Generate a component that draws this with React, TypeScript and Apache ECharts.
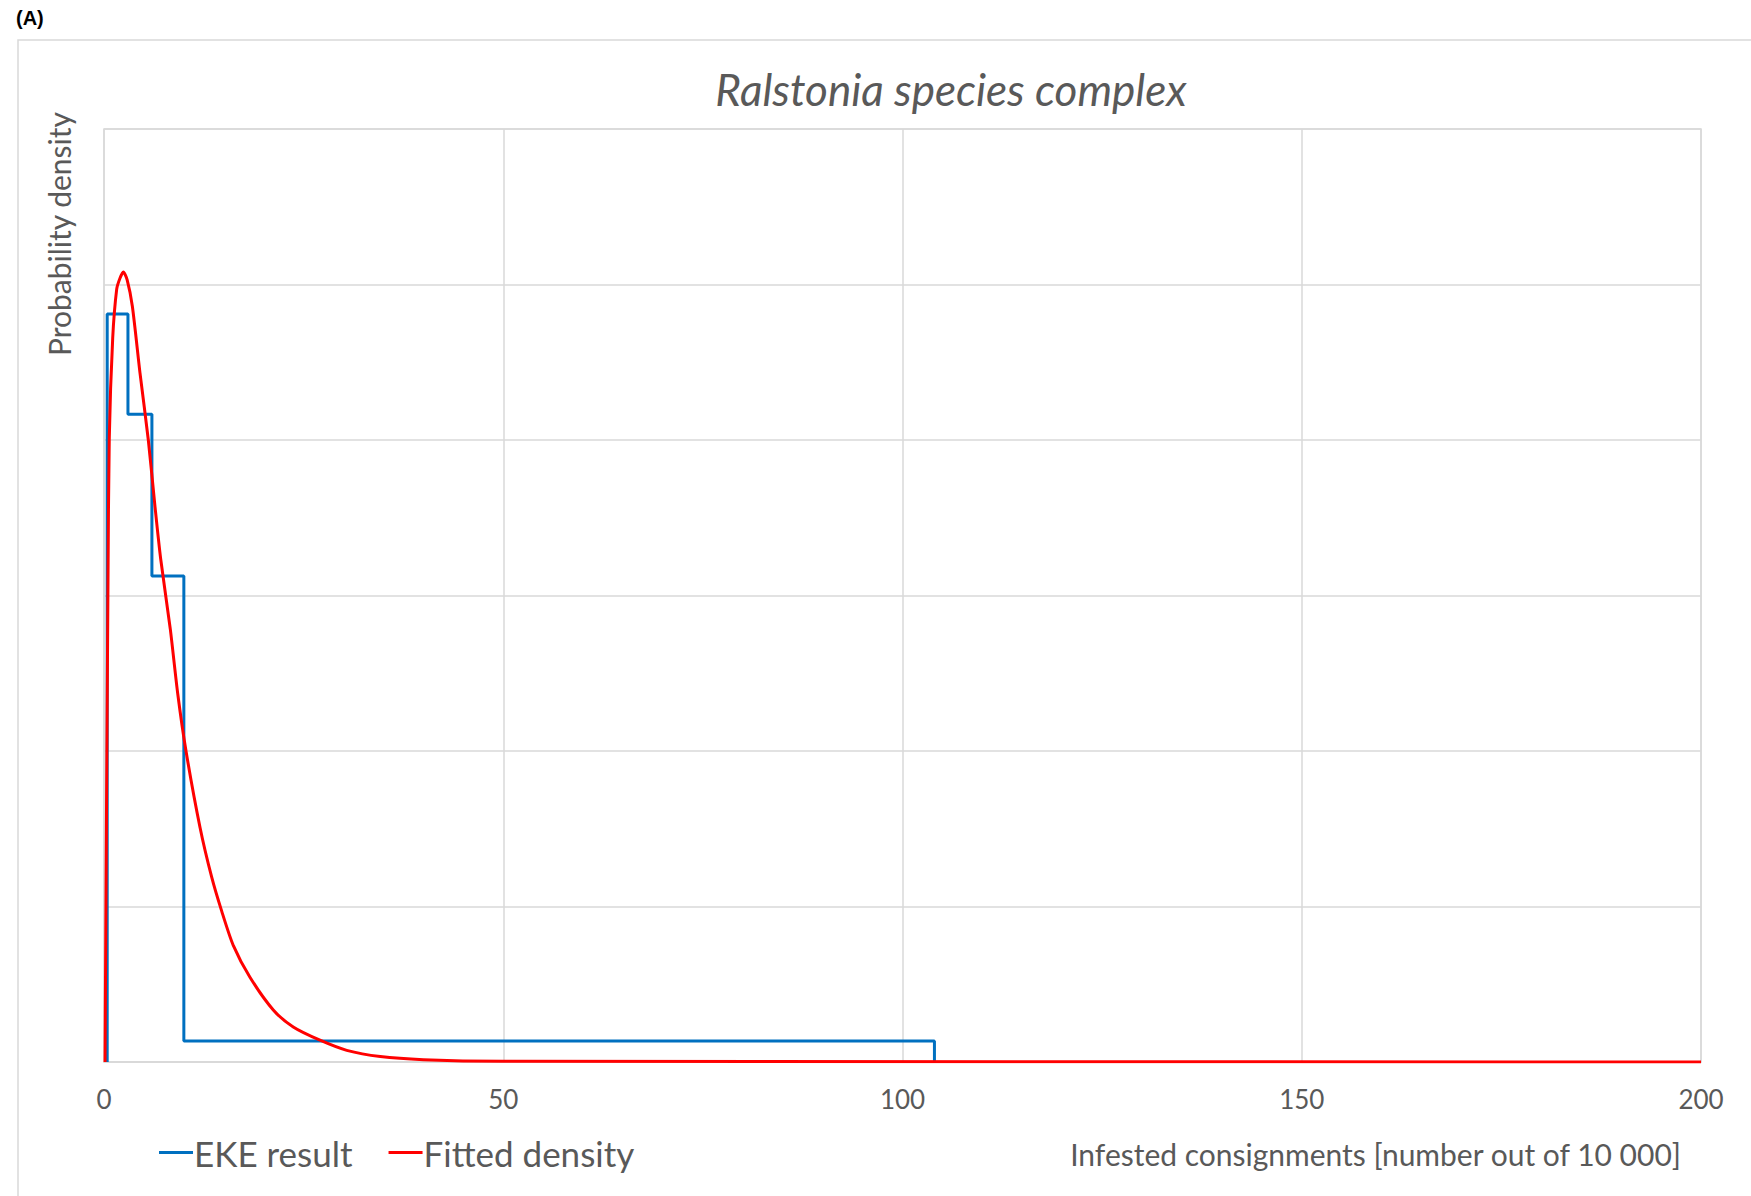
import React, { useEffect, useRef } from "react";
import * as echarts from "echarts";

// EKE result: quartile-based histogram (bin edges and densities)
const ekeEdges = [0.4, 3, 6, 10, 104];
const ekeDensity = [0.0962, 0.0833, 0.0625, 0.0027];

// Fitted density curve
const fitX = [0.13, 0.3, 0.5, 0.66, 1.09, 1.59, 2.0, 2.42, 2.9, 3.55, 4.51, 5.55, 6.39, 7.1, 8.3, 9.23, 10.27, 12.02, 13.48, 14.74, 16.19, 18.28, 21.2, 23.7, 27.05, 30.4, 34.6, 40, 50, 200];
const fitY = [0, 0.03, 0.062, 0.0802, 0.0931, 0.0994, 0.1008, 0.1016, 0.1006, 0.0972, 0.0886, 0.08, 0.0714, 0.0647, 0.0557, 0.0474, 0.04, 0.0302, 0.0238, 0.0194, 0.015, 0.0109, 0.0067, 0.0045, 0.0028, 0.0015, 0.0007, 0.0003, 0.0001, 0];

const xTicks = [0, 50, 100, 150, 200];
const seriesNames = ["EKE result", "Fitted density"];

const TEXT = "#595959";
const GRID = "#d9d9d9";
const FONT = "Lato, 'Open Sans', sans-serif";

export default function App() {
  const ref = useRef<HTMLDivElement>(null);
  useEffect(() => {
    if (!ref.current) return;
    const chart = echarts.init(ref.current, null, { renderer: "svg" });

    const ekeData: number[][] = [];
    ekeData.push([ekeEdges[0], 0]);
    for (let i = 0; i < ekeDensity.length; i++) {
      ekeData.push([ekeEdges[i], ekeDensity[i]]);
      ekeData.push([ekeEdges[i + 1], ekeDensity[i]]);
    }
    ekeData.push([ekeEdges[ekeEdges.length - 1], 0]);

    const fitData = fitX.map((x, i) => [x, fitY[i]]);

    chart.setOption({
      animation: false,
      backgroundColor: "#ffffff",
      title: {
        text: "Ralstonia species complex",
        left: 946,
        top: 62,
        textAlign: "center",
        textStyle: { fontFamily: FONT, fontStyle: "italic", fontWeight: "normal", fontSize: 44, color: TEXT },
      },
      grid: {
        left: 104,
        top: 129,
        width: 1597,
        height: 933,
        show: true,
        borderColor: GRID,
        borderWidth: 1.5,
        containLabel: false,
        outerBoundsMode: "none",
      },
      legend: {
        data: seriesNames,
        left: 154,
        top: 1130,
        icon: "rect",
        itemWidth: 34,
        itemHeight: 3,
        itemGap: 36,
        textStyle: { fontFamily: FONT, fontSize: 35, color: TEXT, padding: [0, 0, 0, -4] },
      },
      xAxis: {
        type: "value",
        min: 0,
        max: 200,
        interval: 50,
        axisLine: { show: true, lineStyle: { color: GRID, width: 1.5 } },
        axisTick: { show: false },
        splitLine: { show: true, lineStyle: { color: GRID, width: 1.5 } },
        axisLabel: {
          color: TEXT,
          fontFamily: FONT,
          fontSize: 26,
          margin: 24,
          formatter: (v: number) => (xTicks.indexOf(v) >= 0 ? String(v) : ""),
        },
      },
      yAxis: {
        type: "value",
        min: 0,
        max: 0.12,
        interval: 0.02,
        axisLine: { show: false },
        axisTick: { show: false },
        axisLabel: { show: false },
        splitLine: { show: true, lineStyle: { color: GRID, width: 1.5 } },
      },
      graphic: [
        {
          type: "rect",
          silent: true,
          z: -10,
          shape: { x: 18, y: 40, width: 1800, height: 1250 },
          style: { fill: "none", stroke: GRID, lineWidth: 1.5 },
        },
        {
          type: "text",
          x: 16,
          y: 8,
          style: { text: "(A)", fontFamily: "'Liberation Sans', Arial, sans-serif", fontWeight: "bold", fontSize: 20, fill: "#000000" },
        },
        {
          type: "text",
          x: 59,
          y: 234,
          rotation: Math.PI / 2,
          style: {
            text: "Probability density",
            fontFamily: FONT,
            fontSize: 30,
            fill: TEXT,
            textAlign: "center",
            textVerticalAlign: "middle",
          },
        },
        {
          type: "text",
          x: 1681,
          y: 1154,
          style: {
            text: "Infested consignments [number out of 10 000]",
            fontFamily: FONT,
            fontSize: 30,
            fill: TEXT,
            textAlign: "right",
            textVerticalAlign: "middle",
          },
        },
      ],
      series: [
        {
          name: seriesNames[0],
          type: "line",
          data: ekeData,
          showSymbol: false,
          symbol: "none",
          lineStyle: { color: "#0070C0", width: 3 },
          itemStyle: { color: "#0070C0" },
          z: 2,
        },
        {
          name: seriesNames[1],
          type: "line",
          data: fitData,
          showSymbol: false,
          symbol: "none",
          smooth: 0.25,
          lineStyle: { color: "#FF0000", width: 3 },
          itemStyle: { color: "#FF0000" },
          z: 3,
        },
      ],
    });
    return () => chart.dispose();
  }, []);
  return (
    <div
      ref={ref}
      style={{ position: "absolute", left: 0, top: 0, width: 1751, height: 1196 }}
    />
  );
}
